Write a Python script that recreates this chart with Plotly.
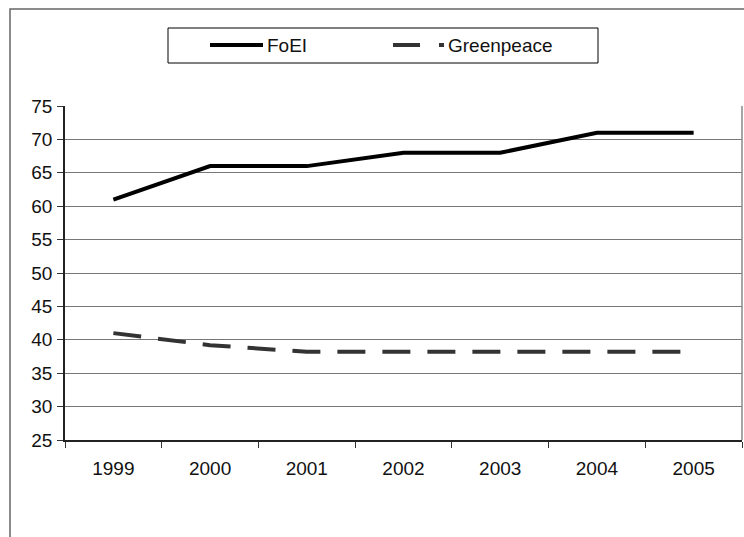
import plotly.graph_objects as go

# Membership figures by year
years = ["1999", "2000", "2001", "2002", "2003", "2004", "2005"]
foei = [61, 66, 66, 68, 68, 71, 71]
greenpeace = [41, 39.2, 38.2, 38.2, 38.2, 38.2, 38.2]
series_names = ["FoEI", "Greenpeace"]
y_ticks = [25, 30, 35, 40, 45, 50, 55, 60, 65, 70, 75]

W, H = 744, 537
L, R, T, B = 65, 2, 106, 97
PW, PH = W - L - R, H - T - B


def px_x(px):
    return (px - L) / PW


def px_y(py):
    return (H - B - py) / PH


FONT = "Liberation Sans, Arial, sans-serif"
TEXT_COLOR = "#111111"

fig = go.Figure()
fig.add_trace(go.Scatter(
    x=years, y=foei, name=series_names[0], mode="lines",
    line=dict(color="black", width=4), showlegend=False,
))
fig.add_trace(go.Scatter(
    x=years, y=greenpeace, name=series_names[1], mode="lines",
    line=dict(color="#333333", width=4, dash="28px,17px"), showlegend=False,
))

shapes = [
    # outer chart frame
    dict(type="rect", xref="paper", yref="paper",
         x0=px_x(10), x1=px_x(760), y0=px_y(560), y1=px_y(9),
         line=dict(color="#666666", width=1.5), layer="below"),
    # right edge of plot area
    dict(type="line", xref="paper", yref="paper",
         x0=1, x1=1, y0=0, y1=1, line=dict(color="#888888", width=1.5)),
    # legend box
    dict(type="rect", xref="paper", yref="paper",
         x0=px_x(168), x1=px_x(598), y0=px_y(63), y1=px_y(28),
         line=dict(color="black", width=1)),
    # legend keys
    dict(type="line", xref="paper", yref="paper",
         x0=px_x(210), x1=px_x(263), y0=px_y(45), y1=px_y(45),
         line=dict(color="black", width=4)),
    dict(type="line", xref="paper", yref="paper",
         x0=px_x(393), x1=px_x(444), y0=px_y(45), y1=px_y(45),
         line=dict(color="#333333", width=4, dash="27px,19px")),
]

annotations = [
    dict(text=series_names[0], xref="paper", yref="paper",
         x=px_x(265), y=px_y(46), xanchor="left", yanchor="middle",
         showarrow=False, font=dict(family=FONT, size=19, color=TEXT_COLOR)),
    dict(text=series_names[1], xref="paper", yref="paper",
         x=px_x(446), y=px_y(46), xanchor="left", yanchor="middle",
         showarrow=False, font=dict(family=FONT, size=19, color=TEXT_COLOR)),
]

fig.update_layout(
    width=W, height=H,
    margin=dict(l=L, r=R, t=T, b=B, pad=0),
    paper_bgcolor="white", plot_bgcolor="white",
    font=dict(family=FONT, size=19, color=TEXT_COLOR),
    shapes=shapes, annotations=annotations,
    showlegend=False,
)
fig.update_xaxes(
    type="category", range=[-0.5, 6.5], tickson="boundaries",
    ticks="outside", ticklen=6, tickcolor="#333333",
    showline=True, linecolor="#222222", linewidth=1.5,
    showgrid=False, zeroline=False, ticklabelstandoff=10,
)
fig.update_yaxes(
    range=[25, 75], tickvals=y_ticks,
    ticks="outside", ticklen=6, tickcolor="#333333",
    showline=True, linecolor="#222222", linewidth=1.5,
    showgrid=True, gridcolor="#777777", gridwidth=1,
    zeroline=False, ticklabelstandoff=1,
)

fig.write_html("out.html")
